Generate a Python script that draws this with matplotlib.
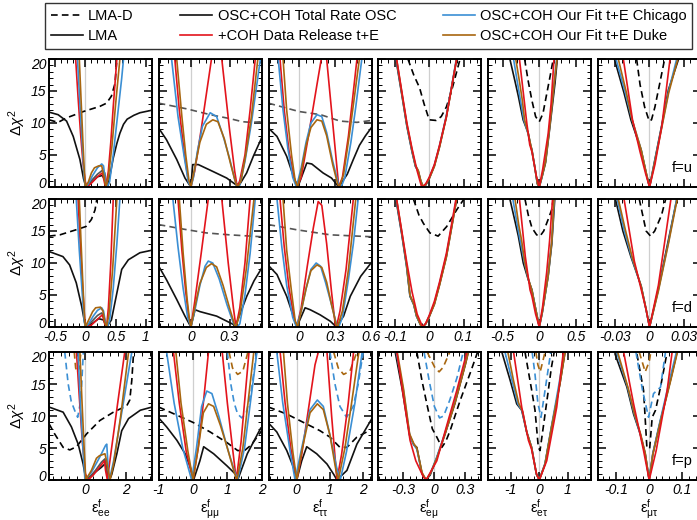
import matplotlib
matplotlib.use("Agg")
import matplotlib.pyplot as plt
from matplotlib.lines import Line2D
from matplotlib.ticker import MultipleLocator, FuncFormatter
from matplotlib.transforms import ScaledTranslation

plt.rcParams["font.family"] = ["Liberation Sans", "DejaVu Sans"]
plt.rcParams["mathtext.fontset"] = "custom"
plt.rcParams["mathtext.rm"] = "Liberation Sans"
plt.rcParams["mathtext.it"] = "Liberation Sans:italic"

# ---- data: lists of (epsilon, delta chi^2) ----
# row f=u
U_EE_LMAD = [(-0.6, 10.5), (-0.45, 10.1), (-0.31, 10.8), (-0.03, 11.8), (0.24, 12.6), (0.35, 13.1), (0.43, 14.2), (0.49, 16.2), (0.52, 20)]
U_EE_LMA = [(-0.6, 11.7), (-0.45, 11.3), (-0.31, 10.3), (-0.2, 7.9), (-0.09, 4.3), (-0.03, 1.3), (0.01, 0), (0.1, 0.7), (0.2, 1.6), (0.28, 1.8), (0.34, 0.8), (0.37, 0), (0.42, 2.5), (0.46, 4.5), (0.52, 6.8), (0.57, 8.4), (0.63, 9.8), (0.69, 10.6), (0.8, 11.2), (0.9, 11.6), (1.1, 12.0)]
U_EE_TOT = [(0.01, 0), (0.1, 1.0), (0.2, 2.0), (0.28, 2.6), (0.32, 2.2), (0.36, 0)]
U_EE_RED = [(-0.16, 20), (-0.12, 14), (-0.08, 8.5), (-0.04, 3.8), (0.0, 0.8), (0.03, 0), (0.1, 0.6), (0.2, 1.6), (0.28, 2.2), (0.32, 0.5), (0.34, 0), (0.38, 2.5), (0.42, 7), (0.46, 12.5), (0.52, 20)]
U_EE_BLUE = [(-0.13, 20), (-0.09, 13), (-0.05, 6.5), (-0.02, 1.5), (0.0, 0), (0.05, 0.5), (0.12, 1.8), (0.2, 3.0), (0.27, 3.6), (0.3, 3.3), (0.33, 1), (0.36, 0), (0.4, 0.8), (0.46, 5), (0.53, 11), (0.6, 17), (0.63, 20)]
U_EE_BROWN = [(-0.1, 20), (-0.07, 13.5), (-0.04, 7), (-0.015, 2), (0.0, 0), (0.05, 0.8), (0.1, 2.2), (0.15, 3.0), (0.22, 3.3), (0.27, 3.3), (0.31, 1.5), (0.34, 0), (0.38, 1.5), (0.44, 6.5), (0.5, 13), (0.57, 20)]

U_MM_LMAD = [(-0.25, 13.1), (-0.03, 12.2), (0.15, 11.3), (0.3, 10.7), (0.4, 10.2), (0.47, 10.1), (0.55, 10.2)]
U_MM_LMA = [(-0.25, 9.2), (-0.19, 7.4), (-0.11, 4.3), (-0.046, 1.4), (0.0, 0), (0.014, 3.5), (0.058, 3.5), (0.174, 2.4), (0.278, 1.4), (0.36, 0.2), (0.37, 0.1), (0.433, 2.2), (0.485, 4.8), (0.55, 7.7)]
U_MM_RED = [(-0.125, 20), (-0.09, 12), (-0.05, 5), (-0.02, 1), (0.0, 0), (0.03, 2.5), (0.08, 9), (0.16, 20), (0.2, 23), (0.24, 20), (0.3, 9), (0.34, 2.5), (0.36, 0), (0.38, 1), (0.42, 5), (0.46, 12), (0.5, 20)]
U_MM_BLUE = [(-0.15, 20), (-0.1, 11), (-0.05, 4.5), (-0.02, 0.8), (0.0, 0), (0.02, 1.5), (0.05, 5.5), (0.09, 9.5), (0.15, 11.6), (0.2, 11), (0.25, 8), (0.3, 4.5), (0.34, 1.2), (0.36, 0), (0.38, 0.3), (0.42, 4), (0.47, 10), (0.54, 20)]
U_MM_BROWN = [(-0.11, 20), (-0.07, 11), (-0.04, 5), (-0.015, 1), (0.0, 0), (0.03, 3), (0.07, 7), (0.12, 9.8), (0.17, 10.5), (0.21, 10.2), (0.26, 7.5), (0.31, 3.5), (0.35, 0.5), (0.365, 0), (0.39, 1), (0.43, 5.5), (0.47, 11), (0.52, 20)]

U_TT_LMAD = [(-0.25, 13.1), (0.0, 11.8), (0.18, 11.3), (0.34, 10.3), (0.48, 10.1), (0.6, 10.4)]
U_TT_LMA = [(-0.25, 9.2), (-0.18, 7.9), (-0.1, 4.8), (-0.045, 1.7), (-0.008, 0), (0.066, 3.75), (0.107, 3.6), (0.2, 2.2), (0.27, 1.4), (0.33, 0), (0.4, 2), (0.45, 4.3), (0.5, 6.5), (0.55, 8), (0.6, 9.3)]
U_TT_RED = [(-0.155, 20), (-0.12, 12), (-0.08, 5.5), (-0.04, 1.5), (-0.015, 0), (0.02, 1.5), (0.08, 8), (0.15, 16), (0.19, 20.5), (0.23, 20), (0.27, 12), (0.31, 4), (0.33, 0), (0.36, 1.5), (0.41, 8), (0.48, 20)]
U_TT_BLUE = [(-0.17, 20), (-0.13, 12), (-0.09, 6), (-0.05, 1.5), (-0.02, 0), (0.02, 3), (0.06, 7), (0.1, 10), (0.15, 11.3), (0.19, 11.0), (0.23, 8.5), (0.28, 4), (0.33, 0.3), (0.35, 0), (0.38, 1.5), (0.43, 7), (0.47, 12.5), (0.52, 20)]
U_TT_BROWN = [(-0.13, 20), (-0.1, 12), (-0.06, 5), (-0.03, 1), (-0.01, 0), (0.02, 2.5), (0.06, 6.5), (0.1, 9.3), (0.15, 10.5), (0.19, 10.3), (0.23, 8), (0.28, 3.5), (0.32, 0.5), (0.335, 0), (0.37, 2), (0.42, 8.5), (0.5, 20)]

U_EM_LMAD = [(-0.062, 20), (-0.045, 17.5), (-0.028, 15.5), (-0.015, 13), (0.0, 10.5), (0.02, 10.4), (0.035, 11), (0.05, 12.5), (0.065, 15), (0.08, 18), (0.09, 20)]
U_EM_LMA = [(-0.097, 20), (-0.08, 14.5), (-0.065, 9.5), (-0.05, 5.5), (-0.04, 3.2), (-0.032, 2.5), (-0.025, 1), (-0.018, 0), (-0.01, 0.3), (0.0, 1.3), (0.015, 3.3), (0.03, 6.3), (0.05, 11), (0.065, 15.5), (0.08, 20)]
U_EM_BLUE = [(-0.096, 20), (-0.08, 14.7), (-0.065, 9.6), (-0.05, 5.6), (-0.04, 3.3), (-0.032, 2.4), (-0.025, 1), (-0.018, 0), (-0.01, 0.4), (0.0, 1.4), (0.015, 3.4), (0.03, 6.4), (0.05, 11.2), (0.065, 15.6), (0.079, 20)]
U_EM_BROWN = [(-0.095, 20), (-0.08, 14.8), (-0.065, 9.8), (-0.05, 5.8), (-0.04, 3.4), (-0.032, 2.6), (-0.025, 1.1), (-0.018, 0), (-0.01, 0.4), (0.0, 1.3), (0.015, 3.2), (0.03, 6.2), (0.05, 10.9), (0.065, 15.4), (0.08, 20)]
U_EM_RED = [(-0.095, 20), (-0.08, 15), (-0.065, 10), (-0.05, 6), (-0.035, 2.5), (-0.022, 0), (-0.01, 0.5), (0.0, 1.5), (0.015, 3.5), (0.03, 6.5), (0.05, 11), (0.065, 15.5), (0.08, 20)]

U_ET_LMAD = [(-0.2, 20), (-0.15, 16.5), (-0.1, 13.5), (-0.05, 11), (0.0, 10.2), (0.05, 11.5), (0.1, 14.5), (0.15, 17.5), (0.19, 20)]
U_ET_LMA = [(-0.4, 20), (-0.33, 16.5), (-0.285, 14.2), (-0.22, 10.5), (-0.15, 8.4), (-0.12, 6.6), (-0.1, 5.8), (-0.06, 3), (-0.027, 0.5), (0.0, 0), (0.04, 1.7), (0.085, 3.8), (0.145, 9.5), (0.213, 16.2), (0.245, 20)]
U_ET_BLUE = [(-0.35, 20), (-0.3, 16.5), (-0.26, 13.8), (-0.21, 10.5), (-0.15, 8.2), (-0.1, 5.6), (-0.06, 3), (-0.025, 0.5), (0.0, 0), (0.04, 1.8), (0.085, 4.2), (0.14, 9.5), (0.2, 16), (0.235, 20)]
U_ET_BROWN = [(-0.32, 20), (-0.27, 16.5), (-0.23, 13.5), (-0.2, 10.5), (-0.15, 8.3), (-0.1, 5.7), (-0.06, 3), (-0.025, 0.5), (0.0, 0), (0.04, 1.8), (0.085, 4), (0.14, 9.3), (0.2, 16), (0.24, 20)]
U_ET_RED = [(-0.27, 20), (-0.22, 15), (-0.17, 10), (-0.13, 6.6), (-0.1, 5.5), (-0.04, 1.7), (0.0, 0), (0.045, 2.7), (0.12, 8.3), (0.16, 13), (0.2, 20)]

U_MT_LMAD = [(-0.011, 20), (-0.008, 16), (-0.004, 12.5), (0.0, 10.3), (0.002, 10.5), (0.005, 12.5), (0.009, 16), (0.0135, 20)]
U_MT_LMA = [(-0.0304, 20), (-0.022, 14.7), (-0.016, 10.5), (-0.0071, 5.8), (-0.0027, 2.2), (0.0003, 0), (0.005, 4.3), (0.0108, 9.5), (0.0168, 15.2), (0.0257, 20)]
U_MT_BLUE = [(-0.029, 20), (-0.021, 14.8), (-0.015, 10.5), (-0.007, 5.8), (-0.0027, 2.2), (0.0003, 0), (0.005, 4.2), (0.011, 9.5), (0.017, 15), (0.024, 20)]
U_MT_BROWN = [(-0.027, 20), (-0.02, 14.8), (-0.015, 10.6), (-0.007, 5.8), (-0.0027, 2.3), (0.0003, 0), (0.005, 4.0), (0.011, 9.3), (0.017, 14.7), (0.025, 20)]
U_MT_RED = [(-0.0226, 20), (-0.0146, 10.5), (-0.008, 5.5), (-0.003, 2), (0.0003, 0), (0.005, 3.5), (0.011, 9.5), (0.0182, 20)]

# row f=d
D_EE_LMAD = [(-0.6, 14.2), (-0.42, 14.4), (-0.15, 15.2), (0.01, 15.7), (0.1, 16.8), (0.16, 18.3), (0.19, 20)]
D_EE_LMA = [(-0.6, 11.8), (-0.37, 11.0), (-0.26, 9.7), (-0.15, 6.9), (-0.06, 3.2), (-0.01, 0.6), (0.02, 0), (0.12, 0.6), (0.22, 1.3), (0.3, 1.1), (0.35, 0), (0.43, 1.1), (0.52, 5.3), (0.6, 9), (0.71, 10.5), (0.9, 11.6), (1.1, 12)]
D_EE_TOT = [(0.02, 0), (0.1, 0.8), (0.2, 1.8), (0.27, 2.2), (0.31, 1.5), (0.35, 0)]
D_EE_RED = [(-0.12, 20), (-0.09, 14), (-0.05, 7), (-0.01, 1), (0.02, 0), (0.1, 0.3), (0.2, 1.2), (0.28, 1.9), (0.32, 0.5), (0.35, 0), (0.38, 3), (0.42, 10), (0.46, 20)]
D_EE_BLUE = [(-0.15, 20), (-0.1, 12), (-0.05, 5), (-0.02, 1), (0.0, 0), (0.06, 0.6), (0.13, 1.7), (0.2, 2.6), (0.27, 3.0), (0.3, 2.5), (0.33, 0.8), (0.36, 0), (0.4, 1), (0.46, 6), (0.52, 13), (0.57, 20)]
D_EE_BROWN = [(-0.1, 20), (-0.07, 13), (-0.04, 6.5), (-0.015, 1.5), (0.0, 0), (0.06, 1.2), (0.12, 2.4), (0.17, 3.0), (0.25, 3.1), (0.29, 2.5), (0.32, 0.8), (0.35, 0), (0.39, 2), (0.45, 9), (0.52, 20)]

D_MM_LMAD = [(-0.25, 16.0), (-0.06, 15.3), (0.12, 14.7), (0.3, 14.4), (0.55, 14.1)]
D_MM_LMA = [(-0.25, 9.5), (-0.19, 7.4), (-0.11, 4.3), (-0.046, 1.7), (0.0, 0), (0.032, 2.7), (0.071, 2.4), (0.2, 1.7), (0.33, 0.4), (0.343, 0), (0.434, 4.8), (0.49, 7.2), (0.55, 9.2)]
D_MM_RED = [(-0.1, 20), (-0.07, 12), (-0.04, 5.5), (-0.015, 1.2), (0.0, 0), (0.03, 4), (0.08, 11.5), (0.135, 20), (0.19, 24), (0.24, 20), (0.29, 10), (0.33, 3), (0.35, 0), (0.38, 3), (0.42, 10), (0.46, 20)]
D_MM_BLUE = [(-0.14, 20), (-0.1, 12.5), (-0.06, 6), (-0.025, 1.5), (0.0, 0), (0.03, 2.5), (0.07, 6.5), (0.11, 9.5), (0.135, 10.3), (0.17, 10), (0.22, 7.5), (0.28, 3.5), (0.33, 0.6), (0.36, 0), (0.38, 0.5), (0.42, 5), (0.46, 11.5), (0.5, 20)]
D_MM_BROWN = [(-0.09, 20), (-0.06, 11.5), (-0.03, 4.5), (-0.01, 1), (0.0, 0), (0.03, 3), (0.07, 6.8), (0.12, 9.3), (0.16, 9.9), (0.2, 9.4), (0.25, 6.5), (0.3, 3), (0.34, 0.3), (0.35, 0), (0.38, 2), (0.43, 9), (0.49, 20)]

D_TT_LMAD = [(-0.25, 16.0), (-0.02, 15.2), (0.26, 14.4), (0.6, 14.1)]
D_TT_LMA = [(-0.25, 9.6), (-0.18, 8.2), (-0.1, 4.8), (-0.045, 1.7), (-0.017, 0), (0.052, 3.0), (0.094, 2.7), (0.176, 1.9), (0.26, 0.9), (0.31, 0), (0.37, 1.7), (0.425, 4.8), (0.51, 7.9), (0.6, 10.1)]
D_TT_RED = [(-0.155, 20), (-0.12, 12.5), (-0.08, 6), (-0.04, 1.5), (-0.017, 0), (0.02, 3), (0.07, 9.5), (0.12, 15.5), (0.16, 19.6), (0.19, 19), (0.23, 13), (0.27, 5.5), (0.3, 0.5), (0.31, 0), (0.34, 2.5), (0.39, 9), (0.45, 20)]
D_TT_BLUE = [(-0.18, 20), (-0.14, 12.5), (-0.1, 6.5), (-0.05, 1.5), (-0.02, 0), (0.02, 2.5), (0.06, 6), (0.1, 9), (0.143, 10), (0.18, 9.5), (0.22, 7), (0.27, 3.5), (0.31, 0.5), (0.33, 0), (0.36, 1.5), (0.41, 7.5), (0.45, 13), (0.49, 20)]
D_TT_BROWN = [(-0.13, 20), (-0.1, 12), (-0.06, 5.5), (-0.03, 1), (-0.01, 0), (0.02, 2.5), (0.06, 6), (0.1, 8.8), (0.15, 9.7), (0.19, 9.3), (0.23, 7), (0.27, 3.5), (0.31, 0.3), (0.32, 0), (0.36, 2.5), (0.41, 9), (0.47, 20)]

D_EM_LMAD = [(-0.046, 20), (-0.03, 17.5), (-0.017, 16.2), (0.002, 14.7), (0.026, 14.2), (0.051, 15.7), (0.08, 18.3), (0.1, 19.9)]
D_EM_LMA = [(-0.097, 20), (-0.08, 14.5), (-0.066, 9.5), (-0.056, 4.8), (-0.045, 3.5), (-0.037, 1.7), (-0.025, 0.3), (-0.019, 0), (-0.01, 0.5), (0.0, 1.6), (0.015, 3.6), (0.03, 6.6), (0.05, 11), (0.065, 15.5), (0.08, 20)]
D_EM_BLUE = [(-0.096, 20), (-0.08, 14.7), (-0.066, 9.7), (-0.056, 4.9), (-0.045, 3.5), (-0.037, 1.7), (-0.025, 0.3), (-0.019, 0), (-0.01, 0.5), (0.0, 1.7), (0.015, 3.7), (0.03, 6.8), (0.05, 11.2), (0.065, 15.7), (0.079, 20)]
D_EM_BROWN = [(-0.095, 20), (-0.08, 14.9), (-0.066, 9.9), (-0.056, 5.0), (-0.045, 3.6), (-0.037, 1.8), (-0.025, 0.3), (-0.019, 0), (-0.01, 0.5), (0.0, 1.6), (0.015, 3.5), (0.03, 6.5), (0.05, 10.9), (0.065, 15.4), (0.08, 20)]
D_EM_RED = [(-0.095, 20), (-0.08, 15), (-0.065, 10), (-0.05, 5.5), (-0.035, 2), (-0.019, 0), (-0.01, 0.6), (0.0, 1.8), (0.015, 4), (0.03, 7), (0.05, 11.5), (0.065, 16), (0.078, 20)]

D_ET_LMAD = [(-0.195, 20), (-0.15, 17.5), (-0.1, 15.5), (-0.036, 14.4), (0.01, 14.2), (0.06, 15), (0.12, 16.8), (0.168, 18.3), (0.19, 20)]
D_ET_LMA = [(-0.4, 20), (-0.33, 16.5), (-0.285, 14.2), (-0.218, 10), (-0.15, 7.4), (-0.1, 5.8), (-0.06, 3.4), (-0.03, 1.7), (0.0, 0), (0.04, 2.2), (0.12, 7.9), (0.17, 13), (0.21, 20)]
D_ET_BLUE = [(-0.36, 20), (-0.3, 16), (-0.26, 13.5), (-0.2, 10), (-0.15, 7.5), (-0.1, 5.7), (-0.06, 3.4), (-0.03, 1.7), (0.0, 0), (0.04, 2.3), (0.12, 8), (0.17, 13.5), (0.205, 20)]
D_ET_BROWN = [(-0.33, 20), (-0.28, 16), (-0.24, 13.5), (-0.2, 10.3), (-0.15, 7.6), (-0.1, 5.7), (-0.06, 3.4), (-0.03, 1.7), (0.0, 0), (0.04, 2.3), (0.12, 8), (0.17, 13.5), (0.2, 20)]
D_ET_RED = [(-0.27, 20), (-0.19, 11), (-0.126, 5.8), (-0.1, 4.8), (-0.05, 2), (0.0, 0), (0.045, 3.2), (0.1, 8.5), (0.14, 13.5), (0.18, 20)]

D_MT_LMAD = [(-0.0087, 20), (-0.0027, 15), (0.0012, 14.2), (0.0048, 15), (0.0108, 17.5), (0.0144, 20)]
D_MT_LMA = [(-0.0295, 20), (-0.023, 15), (-0.016, 11), (-0.007, 6.4), (-0.0027, 2.7), (0.0003, 0), (0.0078, 5.8), (0.0168, 13.6), (0.0242, 20)]
D_MT_BLUE = [(-0.028, 20), (-0.022, 15.2), (-0.0155, 11), (-0.007, 6.3), (-0.0027, 2.7), (0.0003, 0), (0.008, 5.8), (0.017, 13.4), (0.024, 20)]
D_MT_BROWN = [(-0.027, 20), (-0.021, 15.3), (-0.015, 11), (-0.007, 6.3), (-0.0027, 2.8), (0.0003, 0), (0.008, 5.6), (0.017, 13.2), (0.0245, 20)]
D_MT_RED = [(-0.022, 20), (-0.013, 10.3), (-0.0027, 2.7), (0.0003, 0), (0.008, 6.5), (0.019, 20)]

# row f=p
P_EE_LMAD = [(-1.8, 8.8), (-1.52, 7.2), (-1.1, 5.1), (-0.77, 4.7), (-0.44, 5.2), (0.06, 7.2), (0.72, 9.3), (1.39, 10.6), (2.05, 11.6), (2.2, 12.5), (2.3, 15.6), (2.39, 20)]
P_EE_LMA = [(-1.8, 11.4), (-1.1, 10.6), (-0.69, 8.3), (-0.355, 5.6), (-0.11, 2.5), (0.03, 0), (0.4, 1.0), (0.8, 2.0), (1.0, 2.6), (1.1, 0.8), (1.2, 0), (1.31, 0.9), (1.56, 4.1), (1.8, 7.7), (2.14, 9.6), (2.72, 10.9), (3.3, 11.4)]
P_EE_TOT = [(0.1, 0), (0.5, 1.5), (0.8, 2.8), (0.97, 3.3), (1.05, 1.5), (1.15, 0)]
P_EE_RED = [(-0.44, 20), (-0.3, 13), (-0.15, 6), (0.0, 1), (0.14, 0), (0.4, 0.8), (0.7, 2), (0.95, 3.0), (1.0, 1.5), (1.09, 0), (1.3, 5), (1.6, 12), (1.95, 20)]
P_EE_BLUE = [(-0.36, 20), (-0.25, 12), (-0.12, 5), (-0.02, 0), (0.3, 1.2), (0.7, 3.5), (1.0, 5.4), (1.06, 5.6), (1.12, 2.5), (1.19, 0), (1.4, 3), (1.8, 10.5), (2.3, 20)]
P_EE_BROWN = [(-0.27, 20), (-0.17, 12.5), (-0.06, 5), (0.02, 0), (0.3, 1.5), (0.55, 3.4), (0.7, 3.8), (0.97, 4.1), (1.05, 3), (1.22, 0), (1.4, 2.5), (1.75, 10), (2.14, 20)]
P_EE_BLUED = [(-1.02, 20), (-0.85, 15), (-0.7, 12.3), (-0.52, 10.8), (-0.38, 9.8), (-0.28, 11.5), (-0.18, 15), (-0.1, 20)]
P_EE_BROWND = [(-0.55, 20), (-0.48, 17.5), (-0.4, 16.8), (-0.3, 17.5), (-0.22, 20)]

P_MM_LMAD = [(-1, 11.4), (-0.5, 10.2), (0, 9), (0.5, 7.5), (1.0, 5.8), (1.3, 4.6), (1.5, 4.6), (1.7, 5.5), (2.0, 7.7)]
P_MM_LMA = [(-1.0, 9.7), (-0.77, 8.3), (-0.47, 6.2), (-0.23, 4.1), (-0.08, 2.0), (0.015, 0), (0.2, 3), (0.31, 5.2), (0.6, 4.1), (0.99, 2.2), (1.24, 0.9), (1.3, 0), (1.58, 4.1), (1.97, 8.1)]
P_MM_RED = [(-0.57, 20), (-0.4, 12), (-0.2, 4.5), (0.0, 0), (0.15, 5), (0.3, 12), (0.45, 20), (0.65, 25), (0.85, 20), (1.0, 12), (1.15, 5), (1.26, 0), (1.4, 6), (1.63, 20)]
P_MM_BLUE = [(-0.77, 20), (-0.55, 12), (-0.3, 5), (-0.04, 0), (0.1, 5), (0.25, 11.5), (0.4, 13.9), (0.55, 13.5), (0.75, 10), (1.0, 5), (1.2, 1.5), (1.3, 0), (1.5, 5), (1.86, 20)]
P_MM_BROWN = [(-0.5, 20), (-0.35, 12), (-0.15, 4.5), (0.0, 0), (0.15, 5), (0.3, 10.5), (0.45, 11.9), (0.6, 11.5), (0.8, 8.5), (1.0, 5), (1.2, 1.2), (1.28, 0), (1.45, 5), (1.77, 20)]
P_MM_BLUED = [(1.0, 20), (1.1, 15), (1.2, 12), (1.3, 10.3), (1.42, 9.7), (1.55, 10.5), (1.7, 14), (1.85, 20)]
P_MM_BROWND = [(1.05, 20), (1.15, 17.5), (1.3, 16.5), (1.45, 17), (1.6, 20)]

P_TT_LMAD = [(-0.85, 11.4), (-0.3, 10.3), (0.2, 9.0), (0.7, 7.7), (1.0, 6.7), (1.3, 5.1), (1.51, 5.1), (1.81, 6.7), (2.25, 7.9)]
P_TT_LMA = [(-0.85, 8.9), (-0.6, 7.5), (-0.3, 4.6), (-0.1, 2.0), (0.0, 0), (0.15, 3), (0.3, 5.2), (0.6, 4.1), (0.91, 2.5), (1.11, 0.9), (1.21, 0), (1.51, 1.5), (1.81, 5.6), (2.25, 9.5)]
P_TT_RED = [(-0.5, 20), (-0.35, 12), (-0.18, 5), (0.0, 0), (0.15, 4), (0.35, 11), (0.55, 18), (0.65, 20), (0.78, 21), (0.91, 20), (1.05, 10), (1.21, 0), (1.35, 4), (1.55, 12), (1.71, 20)]
P_TT_BLUE = [(-0.6, 20), (-0.42, 12), (-0.2, 4.5), (-0.05, 0), (0.15, 5), (0.4, 11), (0.62, 12.5), (0.8, 11.5), (1.0, 7), (1.2, 2), (1.31, 0), (1.5, 4.5), (1.75, 12), (1.97, 20)]
P_TT_BROWN = [(-0.4, 20), (-0.28, 12), (-0.12, 4.5), (0.0, 0), (0.15, 4.5), (0.4, 10.5), (0.62, 11.9), (0.8, 11), (1.0, 7), (1.18, 1.5), (1.25, 0), (1.45, 5), (1.65, 12), (1.87, 20)]
P_TT_BLUED = [(1.0, 20), (1.15, 15), (1.3, 11.5), (1.5, 9.8), (1.7, 11.5), (1.85, 15), (2.0, 20)]
P_TT_BROWND = [(1.11, 20), (1.25, 17.5), (1.41, 16.5), (1.6, 17), (1.81, 20)]

P_EM_LMAD = [(-0.17, 20), (-0.12, 15.5), (-0.073, 11.9), (-0.02, 8), (0.024, 6.7), (0.073, 5.1), (0.11, 6), (0.153, 7.7), (0.2, 10), (0.25, 12.4), (0.35, 16.8), (0.42, 20)]
P_EM_LMA = [(-0.38, 20), (-0.31, 14), (-0.24, 7), (-0.2, 5.5), (-0.17, 5.1), (-0.12, 1), (-0.08, 0), (-0.04, 0.8), (0.024, 3.5), (0.1, 7), (0.2, 12), (0.3, 18), (0.33, 20)]
P_EM_BLUE = [(-0.37, 20), (-0.3, 14), (-0.24, 7), (-0.2, 5.5), (-0.17, 4.8), (-0.12, 1), (-0.08, 0), (-0.04, 1), (0.024, 3.6), (0.1, 7.2), (0.2, 12.3), (0.3, 18.5), (0.32, 20)]
P_EM_BROWN = [(-0.36, 20), (-0.3, 14.3), (-0.24, 7.2), (-0.2, 5.7), (-0.17, 5), (-0.12, 1.2), (-0.08, 0), (-0.04, 1), (0.024, 3.4), (0.1, 7), (0.2, 12), (0.3, 18), (0.33, 20)]
P_EM_RED = [(-0.365, 20), (-0.3, 13), (-0.236, 6.2), (-0.18, 3), (-0.107, 0.5), (-0.08, 0), (0.024, 3.0), (0.12, 8.5), (0.218, 14), (0.316, 20)]
P_EM_BLUED = [(-0.1, 20), (-0.05, 15.5), (0.0, 11.5), (0.05, 9.7), (0.09, 10), (0.15, 12.5), (0.22, 16), (0.28, 20)]
P_EM_BROWND = [(-0.07, 20), (0.004, 17.6), (0.046, 16.9), (0.085, 17.6), (0.15, 20)]

P_ET_LMAD = [(-0.5, 20), (-0.265, 14), (-0.15, 10.9), (-0.034, 5.1), (0.025, 4.6), (0.14, 8.3), (0.3, 13.5), (0.42, 17.5), (0.52, 20)]
P_ET_LMA = [(-1.31, 20), (-1.02, 15.6), (-0.79, 11.9), (-0.615, 10.9), (-0.44, 7.5), (-0.27, 5.1), (-0.1, 0.9), (0.0, 0), (0.2, 2.5), (0.43, 8.3), (0.72, 15), (0.9, 20)]
P_ET_BLUE = [(-1.2, 20), (-0.95, 15.5), (-0.75, 11.9), (-0.6, 10.8), (-0.44, 7.5), (-0.27, 5.1), (-0.1, 0.9), (0.0, 0), (0.2, 2.6), (0.43, 8.5), (0.7, 15.3), (0.87, 20)]
P_ET_BROWN = [(-1.1, 20), (-0.9, 15.5), (-0.72, 12), (-0.58, 10.7), (-0.44, 7.5), (-0.27, 5.1), (-0.1, 0.9), (0.0, 0), (0.2, 2.5), (0.43, 8.3), (0.72, 15), (0.9, 20)]
P_ET_RED = [(-0.9, 20), (-0.615, 11.4), (-0.38, 6.2), (-0.27, 4.8), (-0.1, 1), (0.0, 0), (0.26, 3), (0.61, 11.4), (0.84, 20)]
P_ET_BLUED = [(-0.25, 20), (-0.15, 16.5), (-0.05, 12), (0.06, 9.8), (0.15, 12.5), (0.25, 15.5), (0.4, 20)]
P_ET_BROWND = [(-0.12, 20), (-0.05, 18), (0.03, 16.9), (0.12, 18.5), (0.2, 20)]

P_MT_LMAD = [(-0.037, 19.7), (-0.017, 14), (-0.007, 5.1), (0.0014, 4.9), (0.009, 9.8), (0.019, 10.9), (0.034, 14.5), (0.054, 20)]
P_MT_LMA = [(-0.103, 19.7), (-0.067, 14.5), (-0.047, 10.3), (-0.027, 7.2), (-0.012, 4.1), (0.0, 0), (0.011, 4.1), (0.034, 9.3), (0.064, 15.6), (0.084, 20)]
P_MT_BLUE = [(-0.098, 20), (-0.065, 14.5), (-0.045, 10.3), (-0.026, 7), (-0.012, 4), (0.0, 0), (0.011, 4.2), (0.034, 9.5), (0.063, 16), (0.082, 20)]
P_MT_BROWN = [(-0.095, 20), (-0.063, 14.3), (-0.044, 10.3), (-0.026, 7.2), (-0.012, 4.2), (0.0, 0), (0.011, 4), (0.034, 9.2), (0.064, 15.4), (0.085, 20)]
P_MT_RED = [(-0.077, 20), (-0.047, 11.9), (-0.017, 4.6), (0.0, 0), (0.021, 4.6), (0.054, 14), (0.069, 20)]
P_MT_BLUED = [(-0.04, 20), (-0.02, 14), (-0.002, 9.8), (0.013, 13.5), (0.034, 14.5), (0.049, 20)]
P_MT_BROWND = [(-0.03, 20), (-0.012, 16.9), (0.0, 18.5), (0.005, 20)]

# axis ranges and labels
XLIM_UD = [(-0.6, 1.1), (-0.25, 0.55), (-0.25, 0.6), (-0.15, 0.15), (-0.7, 0.7), (-0.045, 0.045)]
XLIM_P = [(-1.8, 3.3), (-1.0, 2.0), (-0.85, 2.25), (-0.55, 0.45), (-1.8, 1.8), (-0.155, 0.155)]
XMAJ_UD = [0.5, 0.3, 0.3, 0.1, 0.5, 0.03]
XMAJ_P = [2, 1, 1, 0.3, 1, 0.1]
YTICKS = [0, 5, 10, 15, 20]
XLABELS = [r"$\mathrm{\varepsilon}^{\rm f}_{\rm ee}$", r"$\mathrm{\varepsilon}^{\rm f}_{\mathrm{\mu\mu}}$",
           r"$\mathrm{\varepsilon}^{\rm f}_{\mathrm{\tau\tau}}$", r"$\mathrm{\varepsilon}^{\rm f}_{\mathrm{e\mu}}$",
           r"$\mathrm{\varepsilon}^{\rm f}_{\mathrm{e\tau}}$", r"$\mathrm{\varepsilon}^{\rm f}_{\mathrm{\mu\tau}}$"]
ROW_TAGS = ["f=u", "f=d", "f=p"]

PANELS = [
    [dict(lmad=U_EE_LMAD, lma=U_EE_LMA, tot=U_EE_TOT, red=U_EE_RED, blue=U_EE_BLUE, brown=U_EE_BROWN),
     dict(lmad_g=U_MM_LMAD, lma=U_MM_LMA, red=U_MM_RED, blue=U_MM_BLUE, brown=U_MM_BROWN),
     dict(lmad_g=U_TT_LMAD, lma=U_TT_LMA, red=U_TT_RED, blue=U_TT_BLUE, brown=U_TT_BROWN),
     dict(lmad=U_EM_LMAD, lma=U_EM_LMA, blue=U_EM_BLUE, brown=U_EM_BROWN, red=U_EM_RED),
     dict(lmad=U_ET_LMAD, lma=U_ET_LMA, blue=U_ET_BLUE, brown=U_ET_BROWN, red=U_ET_RED),
     dict(lmad=U_MT_LMAD, lma=U_MT_LMA, blue=U_MT_BLUE, brown=U_MT_BROWN, red=U_MT_RED)],
    [dict(lmad=D_EE_LMAD, lma=D_EE_LMA, tot=D_EE_TOT, red=D_EE_RED, blue=D_EE_BLUE, brown=D_EE_BROWN),
     dict(lmad_g=D_MM_LMAD, lma=D_MM_LMA, red=D_MM_RED, blue=D_MM_BLUE, brown=D_MM_BROWN),
     dict(lmad_g=D_TT_LMAD, lma=D_TT_LMA, red=D_TT_RED, blue=D_TT_BLUE, brown=D_TT_BROWN),
     dict(lmad=D_EM_LMAD, lma=D_EM_LMA, blue=D_EM_BLUE, brown=D_EM_BROWN, red=D_EM_RED),
     dict(lmad=D_ET_LMAD, lma=D_ET_LMA, blue=D_ET_BLUE, brown=D_ET_BROWN, red=D_ET_RED),
     dict(lmad=D_MT_LMAD, lma=D_MT_LMA, blue=D_MT_BLUE, brown=D_MT_BROWN, red=D_MT_RED)],
    [dict(lmad=P_EE_LMAD, lma=P_EE_LMA, tot=P_EE_TOT, blued=P_EE_BLUED, brownd=P_EE_BROWND, red=P_EE_RED, blue=P_EE_BLUE, brown=P_EE_BROWN),
     dict(lmad=P_MM_LMAD, lma=P_MM_LMA, blued=P_MM_BLUED, brownd=P_MM_BROWND, red=P_MM_RED, blue=P_MM_BLUE, brown=P_MM_BROWN),
     dict(lmad=P_TT_LMAD, lma=P_TT_LMA, blued=P_TT_BLUED, brownd=P_TT_BROWND, red=P_TT_RED, blue=P_TT_BLUE, brown=P_TT_BROWN),
     dict(lmad=P_EM_LMAD, blued=P_EM_BLUED, brownd=P_EM_BROWND, lma=P_EM_LMA, blue=P_EM_BLUE, brown=P_EM_BROWN, red=P_EM_RED),
     dict(lmad=P_ET_LMAD, blued=P_ET_BLUED, brownd=P_ET_BROWND, lma=P_ET_LMA, blue=P_ET_BLUE, brown=P_ET_BROWN, red=P_ET_RED),
     dict(lmad=P_MT_LMAD, blued=P_MT_BLUED, brownd=P_MT_BROWND, lma=P_MT_LMA, blue=P_MT_BLUE, brown=P_MT_BROWN, red=P_MT_RED)],
]

RED, BLUE, BROWN = "#e3141c", "#3b8fd4", "#a8660f"
STYLE = {
    "lmad": dict(color="black", ls=(0, (4, 2.5)), lw=1.2),
    "lmad_g": dict(color="#555555", ls=(0, (4, 2.5)), lw=1.2),
    "lma": dict(color="#111111", ls="-", lw=1.2),
    "tot": dict(color="#555555", ls="-", lw=1.2),
    "blued": dict(color=BLUE, ls=(0, (4, 2.5)), lw=1.2),
    "brownd": dict(color=BROWN, ls=(0, (4, 2.5)), lw=1.2),
    "blue": dict(color=BLUE, ls="-", lw=1.2),
    "brown": dict(color=BROWN, ls="-", lw=1.2),
    "red": dict(color=RED, ls="-", lw=1.2),
}


def tick_fmt(v, _pos):
    s = f"{v:.3g}"
    return "0" if s in ("-0", "0") else s


W, H = 697, 520
fig = plt.figure(figsize=(W / 100, H / 100), dpi=100)

col_left = [49, 158.7, 268.5, 377.7, 487.8, 597.7]
row_top = [59, 199, 352]
pw, ph = 103, 128

for r in range(3):
    for c in range(6):
        ax = fig.add_axes([col_left[c] / W, 1 - (row_top[r] + ph) / H, pw / W, ph / H])
        xlim = XLIM_P[c] if r == 2 else XLIM_UD[c]
        xmaj = XMAJ_P[c] if r == 2 else XMAJ_UD[c]
        ax.axvline(0, color="#cfcfcf", lw=0.9, zorder=0)
        for key, pts in PANELS[r][c].items():
            xs = [p[0] for p in pts]
            ys = [p[1] for p in pts]
            ax.plot(xs, ys, **STYLE[key])
        ax.set_xlim(*xlim)
        ax.set_ylim(0, 20)
        ax.xaxis.set_major_locator(MultipleLocator(xmaj))
        ax.xaxis.set_minor_locator(MultipleLocator(xmaj / 5))
        ax.xaxis.set_major_formatter(FuncFormatter(tick_fmt))
        ax.set_yticks(YTICKS)
        ax.yaxis.set_minor_locator(MultipleLocator(1))
        ax.tick_params(which="both", direction="in", top=True, right=True, labelsize=10)
        ax.tick_params(which="major", length=6, width=1.1, pad=2)
        ax.tick_params(which="minor", length=3, width=0.7)
        for sp in ax.spines.values():
            sp.set_linewidth(1.4)
        if r == 0:
            ax.tick_params(labelbottom=False)
        if c == 0:
            ax.set_ylabel(r"$\Delta\chi^2$", fontsize=11, labelpad=2)
            yt = ax.yaxis.get_major_ticks()
            # nudge the end labels apart so neighbouring rows do not collide
            lo, hi = yt[0].label1, yt[len(YTICKS) - 1].label1
            lo.set_transform(lo.get_transform() + ScaledTranslation(0, 3.5 / 72, fig.dpi_scale_trans))
            hi.set_transform(hi.get_transform() + ScaledTranslation(0, -3 / 72, fig.dpi_scale_trans))
        else:
            ax.tick_params(labelleft=False)
        for lab in ax.get_xticklabels() + ax.get_yticklabels():
            lab.set_fontstyle("italic")
        if r == 2:
            ax.set_xlabel(XLABELS[c], fontsize=10.5, labelpad=0.5)
        if c == 5:
            ax.text(0.925, 0.09, ROW_TAGS[r], transform=ax.transAxes, ha="right", va="bottom", fontsize=10.5)

handles = [
    Line2D([], [], **STYLE["lmad"]),
    Line2D([], [], **STYLE["lma"]),
    Line2D([], [], **STYLE["lma"]),
    Line2D([], [], **STYLE["red"]),
    Line2D([], [], **STYLE["blue"]),
    Line2D([], [], **STYLE["brown"]),
]
labels = ["LMA-D", "LMA", "OSC+COH Total Rate OSC", "+COH Data Release t+E",
          "OSC+COH Our Fit t+E Chicago", "OSC+COH Our Fit t+E Duke"]
leg = fig.legend(handles, labels, ncol=3, loc="upper left", bbox_to_anchor=(45 / W, 1 - 3 / H),
                 frameon=True, fancybox=False, edgecolor="black", fontsize=10.5,
                 handlelength=2.2, handletextpad=0.35, columnspacing=3.2,
                 labelspacing=0.4, borderpad=0.4, borderaxespad=0)
leg.get_frame().set_linewidth(1.0)

fig.savefig("out.png", dpi=100)
